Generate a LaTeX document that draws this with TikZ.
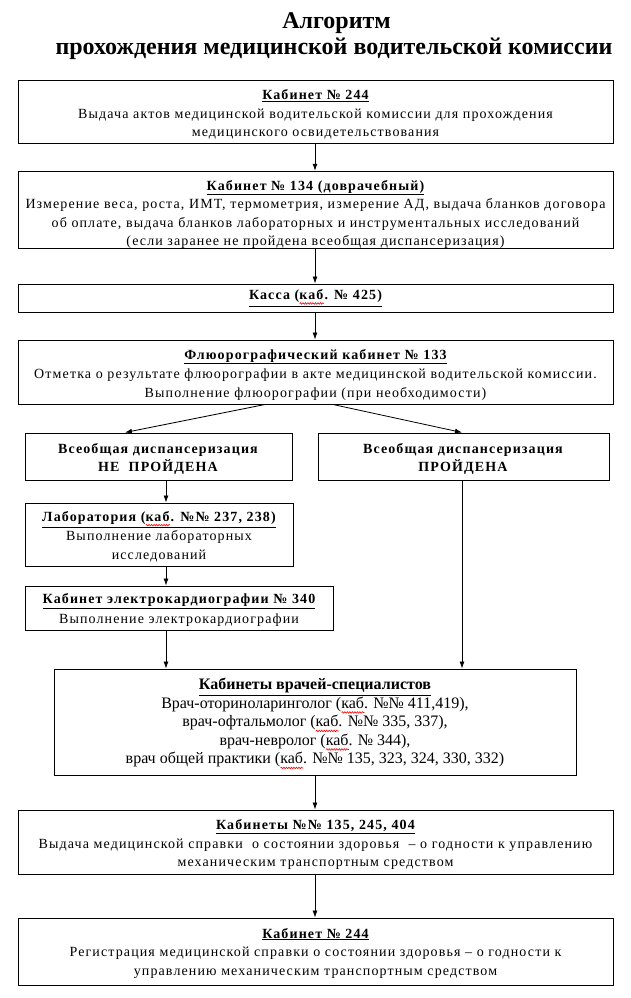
\documentclass[tikz,border=0pt]{standalone}
\usepackage{fontspec}
\setmainfont{Liberation Serif}
\usetikzlibrary{arrows.meta,decorations.pathmorphing}
\newfontfamily\bodyfont[LetterSpace=8]{Liberation Serif}
\newlength\wavelen
\newcommand\redwave[1]{\settowidth\wavelen{#1}\rlap{\tikz[baseline=0pt,x=1pt,y=1pt]{\draw[red, line width=0.6pt, decorate, decoration={snake, amplitude=0.8pt, segment length=2.5pt}] (0,-4) -- (\wavelen,-4);}}#1}
\tikzset{
  box/.style={draw, line width=1pt, rectangle, inner sep=0pt, align=center,
    font=\bodyfont\fontsize{14}{18.5}\selectfont},
  bigbox/.style={box, font=\fontsize{16}{18.5}\selectfont},
  ttl/.style={font=\bfseries\fontsize{24}{26}\selectfont, anchor=base},
  arr/.style={line width=0.8pt, -{Latex[length=7pt,width=5pt]}},
}
\newcommand{\hd}[1]{\textbf{\underline{#1}}}
\begin{document}
\begin{tikzpicture}[x=1pt,y=-1pt]
\useasboundingbox (0,0) rectangle (631,998);
\node[ttl] (title1) at (336.5,29) {Алгоритм};
\node[ttl] (title2) at (334,55) {прохождения медицинской водительской комиссии};
\node[box, minimum width=595pt, minimum height=63pt] (b1) at (315.5,111.5)
  {\rule{0pt}{16pt}\hd{Кабинет № 244}\\Выдача актов медицинской водительской комиссии для прохождения\\медицинского освидетельствования};
\node[box, minimum width=595pt, minimum height=76pt] (b2) at (315.5,210)
  {\rule{0pt}{19pt}\hd{Кабинет № 134 (доврачебный)}\\Измерение веса, роста, ИМТ, термометрия, измерение АД, выдача бланков договора\\об оплате, выдача бланков лабораторных и инструментальных исследований\\(если заранее не пройдена всеобщая диспансеризация)};
\node[box, minimum width=595pt, minimum height=28pt] (b3) at (315.5,298)
  {\hd{Касса (\redwave{каб}. № 425)}};
\node[box, minimum width=595pt, minimum height=64pt] (b4) at (315.5,372)
  {\rule{0pt}{15pt}\hd{Флюорографический кабинет № 133}\\[1pt]Отметка о результате флюорографии в акте медицинской водительской комиссии.\\Выполнение флюорографии (при необходимости)};
\node[box, minimum width=267pt, minimum height=47pt] (b5) at (158.5,456.5)
  {\rule{0pt}{15pt}\textbf{Всеобщая диспансеризация}\\\textbf{НЕ\ \ ПРОЙДЕНА}};
\node[box, minimum width=291pt, minimum height=47pt] (b6) at (463.5,456.5)
  {\rule{0pt}{15pt}\textbf{Всеобщая диспансеризация}\\\textbf{ПРОЙДЕНА}};
\node[box, minimum width=268pt, minimum height=63pt] (b7) at (159,534.5)
  {\rule{0pt}{14pt}\hd{Лаборатория (\redwave{каб}. №№ 237, 238)}\\[1pt]Выполнение лабораторных\\исследований};
\node[box, minimum width=308pt, minimum height=44pt] (b8) at (179,608)
  {\rule{0pt}{14pt}\hd{Кабинет электрокардиографии № 340}\\[1pt]Выполнение электрокардиографии};
\node[bigbox, minimum width=522pt, minimum height=106pt] (b9) at (315,722)
  {\rule{0pt}{15pt}\hd{Кабинеты врачей-специалистов}\\Врач-оториноларинголог (\redwave{каб}. №№ 411,419),\\врач-офтальмолог (\redwave{каб}. №№ 335, 337),\\врач-невролог (\redwave{каб}. № 344),\\врач общей практики (\redwave{каб}. №№ 135, 323, 324, 330, 332)};
\node[box, minimum width=595pt, minimum height=64pt] (b10) at (315.5,842)
  {\rule{0pt}{15pt}\hd{Кабинеты №№ 135, 245, 404}\\Выдача медицинской справки\ \ о состоянии здоровья\ \ – о годности к управлению\\механическим транспортным средством};
\node[box, minimum width=595pt, minimum height=67pt] (b11) at (315.5,951.5)
  {\rule{0pt}{13pt}\hd{Кабинет № 244}\\Регистрация медицинской справки о состоянии здоровья – о годности к\\управлению механическим транспортным средством};
\draw[arr] (b1.south -| 315,0) -- (b2.north -| 315,0);
\draw[arr] (b2.south -| 315,0) -- (b3.north -| 315,0);
\draw[arr] (b3.south -| 315,0) -- (b4.north -| 315,0);
\draw[arr] (b4.south -| 265,0) -- (b5.north -| 125,0);
\draw[arr] (b4.south -| 333,0) -- (b6.north -| 462,0);
\draw[arr] (b5.south -| 166,0) -- (b7.north -| 166,0);
\draw[arr] (b7.south -| 166,0) -- (b8.north -| 166,0);
\draw[arr] (b8.south -| 166,0) -- (b9.north -| 166,0);
\draw[arr] (b6.south -| 462,0) -- (b9.north -| 462,0);
\draw[arr] (b9.south -| 315,0) -- (b10.north -| 315,0);
\draw[arr] (b10.south -| 315,0) -- (b11.north -| 315,0);
\end{tikzpicture}
\end{document}
